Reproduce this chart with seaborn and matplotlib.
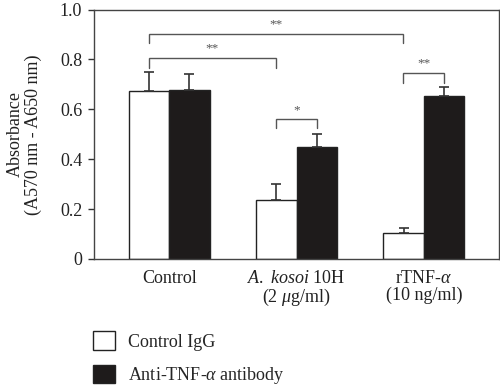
import matplotlib
matplotlib.use("Agg")
import matplotlib.pyplot as plt
import seaborn as sns
import pandas as pd
from matplotlib.patches import Patch

# ---- data ----
categories = ["Control", "$\\it{A.\\ kosoi}$ 10H\n(2 $\\mu$g/ml)", "rTNF-$\\alpha$\n(10 ng/ml)"]
groups = ["Control IgG", "Anti-TNF-$\\alpha$ antibody"]
igg_values = [0.675, 0.236, 0.105]
anti_values = [0.679, 0.449, 0.653]
igg_err = [0.075, 0.063, 0.020]
anti_err = [0.063, 0.051, 0.035]
yticks = [0, 0.2, 0.4, 0.6, 0.8, 1.0]
ytick_labels = ["0", "0.2", "0.4", "0.6", "0.8", "1.0"]
# significance brackets: (x1, x2, leg bottom left, leg bottom right, top, label)
brackets = [
    (-0.16, 0.84, 0.765, 0.765, 0.807, "**"),
    (-0.16, 1.84, 0.865, 0.865, 0.903, "**"),
    (0.84, 1.16, 0.524, 0.524, 0.561, "*"),
    (1.84, 2.16, 0.704, 0.704, 0.747, "**"),
]

sns.set_theme(style="white")
plt.rcParams["font.family"] = ["Liberation Serif", "DejaVu Serif"]
plt.rcParams["mathtext.fontset"] = "custom"
plt.rcParams["mathtext.rm"] = "Liberation Serif"
plt.rcParams["mathtext.it"] = "Liberation Serif:italic"
plt.rcParams["mathtext.bf"] = "Liberation Serif:bold"

df = pd.DataFrame({
    "category": categories * 2,
    "group": [groups[0]] * 3 + [groups[1]] * 3,
    "value": igg_values + anti_values,
})

fig = plt.figure(figsize=(5.0, 3.91), dpi=100)
ax = fig.add_axes([0.188, 0.3376, 0.81, 0.638])

sns.barplot(data=df, x="category", y="value", hue="group", order=categories,
            hue_order=groups, palette=["white", "#1e1b1b"], width=0.635,
            edgecolor="#222222", linewidth=1.0, errorbar=None, legend=False,
            saturation=1, ax=ax)

# error bars (upper only)
errs = igg_err + anti_err
vals = igg_values + anti_values
for patch, v, e in zip(ax.patches, vals, errs):
    xc = patch.get_x() + patch.get_width() / 2
    ax.errorbar([xc], [v], yerr=[[0], [e]], fmt="none", ecolor="#333333",
                elinewidth=1.2, capsize=3.5, capthick=1.2, zorder=1)

# brackets
for x1, x2, b1, b2, top, lab in brackets:
    ax.plot([x1, x1, x2, x2], [b1, top, top, b2], color="#555555", lw=1.0,
            solid_joinstyle="miter")
    ax.text((x1 + x2) / 2, top + 0.012, lab, ha="center", va="bottom",
            fontsize=9.5, color="#555555")

ax.set_xlim(-0.59, 2.59)
ax.set_ylim(0, 1.0)
ax.set_yticks(yticks)
ax.set_yticklabels(ytick_labels)
ax.tick_params(axis="y", which="both", left=True, length=4.5, width=1.0,
               color="#333333", pad=4, labelsize=13, labelcolor="#222222")
ax.tick_params(axis="x", length=0, pad=8, labelsize=13, labelcolor="#222222")
for lbl in ax.get_xticklabels():
    lbl.set_linespacing(1.0)
ax.set_xlabel("")
ax.set_ylabel("Absorbance\n(A570 nm - A650 nm)", fontsize=13, color="#222222",
              linespacing=1.05)
ax.yaxis.set_label_coords(-0.128, 0.5)
for s in ax.spines.values():
    s.set_visible(True)
    s.set_color("#444444")
    s.set_linewidth(1.0)

handles = [Patch(facecolor="white", edgecolor="#222222", linewidth=1.0),
           Patch(facecolor="#1e1b1b", edgecolor="#222222", linewidth=1.0)]
fig.legend(handles, groups, loc="upper left", bbox_to_anchor=(0.186, 0.153),
           frameon=False, fontsize=13, handlelength=1.2, handleheight=1.2,
           labelspacing=0.8, handletextpad=0.75, borderaxespad=0, borderpad=0)

fig.savefig("out.png", dpi=100)
